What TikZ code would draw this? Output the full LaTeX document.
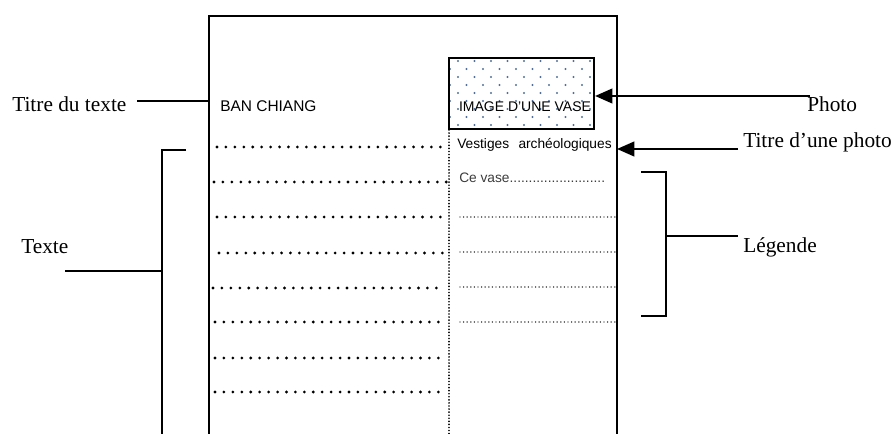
\documentclass[tikz,border=0pt]{standalone}
\usepackage{fontspec}
\setmainfont{Liberation Serif}
\setsansfont{Liberation Sans}
\usetikzlibrary{arrows.meta, positioning, calc}
\definecolor{dotblue}{RGB}{80,110,150}
\definecolor{captiongray}{RGB}{60,60,60}

\begin{document}
\begin{tikzpicture}[
    x=0.75pt, y=-0.75pt,
    note/.style={font=\fontsize{16}{18}\selectfont, inner sep=0pt, anchor=base west},
    sans/.style={font=\sffamily\fontsize{10.3}{12}\selectfont, inner sep=0pt, anchor=base west},
    arrow/.style={-{Triangle[length=13pt, width=11pt]}, line width=1.6pt},
    bar/.style={line width=1.6pt},
    bigdots/.style={line width=2.3pt, line cap=round, dash pattern=on 0pt off 6.7pt},
    smalldots/.style={line width=1.1pt, line cap=round, dash pattern=on 0pt off 2.7pt},
    vdots/.style={line width=1.4pt, line cap=round, dash pattern=on 0pt off 2.3pt},
    photobox/.style={draw, line width=1.6pt, minimum width=108.75pt, minimum height=53.25pt, inner sep=0pt}
]
\useasboundingbox (0,0) rectangle (893,434);

% Page
\draw[line width=1.4pt] (209,434) -- (209,16) -- (617,16) -- (617,434);

% Photo
\foreach \r in {0,...,8} {
    \pgfmathsetmacro\yy{61+8*\r}
    \pgfmathsetmacro\xs{mod(\r,2)==0 ? 458 : 450}
    \foreach \k in {0,...,8}
        \fill[dotblue] (\xs+16.5*\k,\yy) circle (0.85pt);
}
\node[photobox] (photobox) at (521.5,93.5) {};
\node[sans, font=\sffamily\fontsize{10.5}{12}\selectfont, anchor=base] (imgtxt) at (525,112) {IMAGE D’UNE VASE};

% Texte de la page
\node[sans, font=\sffamily\fontsize{11.6}{14}\selectfont] (banchiang) at (220,112) {BAN CHIANG};
\node[sans] (vestiges) at (457,149) {Vestiges\hspace{7pt}archéologiques};
\node[sans, text=captiongray] (cevase) at (459,183) {Ce vase.........................};

\foreach \y/\xa/\xb in {147/217/449, 182/214/449, 217/217/449, 253/219/449,
                        288/213/443, 322/215/443, 358/215/443, 392/215/443}
    \draw[bigdots] (\xa,\y) -- (\xb,\y);
\foreach \y in {217,252,287,322}
    \draw[smalldots] (460,\y) -- (615,\y);
\draw[vdots] (449,130) -- (449,434);

% Titre du texte
\node[note] (titretexte) at (12,112) {Titre du texte};
\coordinate (titrestart) at (137,101);
\coordinate (titreend) at (209,101);
\draw[bar] (titrestart) -- (titreend);

% Texte
\node[note] (texte) at (21,254) {Texte};
\coordinate (textestart) at (65,271);
\coordinate (textebrace) at (162,271);
\coordinate (textetop) at (162,150);
\coordinate (textetip) at (186,150);
\coordinate (textebottom) at (162,434);
\draw[bar] (textestart) -- (textebrace);
\draw[bar] (textetip) -- (textetop) -- (textebottom);

% Photo
\node[note] (photo) at (807,112) {Photo};
\coordinate (photostart) at (810,96);
\draw[arrow] (photostart) -- (photostart -| photobox.east);

% Titre d'une photo
\node[note] (titrephoto) at (743,148) {Titre d’une photo};
\coordinate (titrephotostart) at (738,149);
\coordinate (pageright) at (617,149);
\draw[arrow] (titrephotostart) -- (pageright);

% Legende
\node[note] (legende) at (743,253) {Légende};
\coordinate (legtop) at (641,172);
\coordinate (legbottom) at (641,316);
\coordinate (legmid) at (666,236);
\coordinate (legend) at (738,236);
\draw[bar] (legtop) -- (666,172) -- (666,316) -- (legbottom);
\draw[bar] (legmid) -- (legend);

\end{tikzpicture}
\end{document}
